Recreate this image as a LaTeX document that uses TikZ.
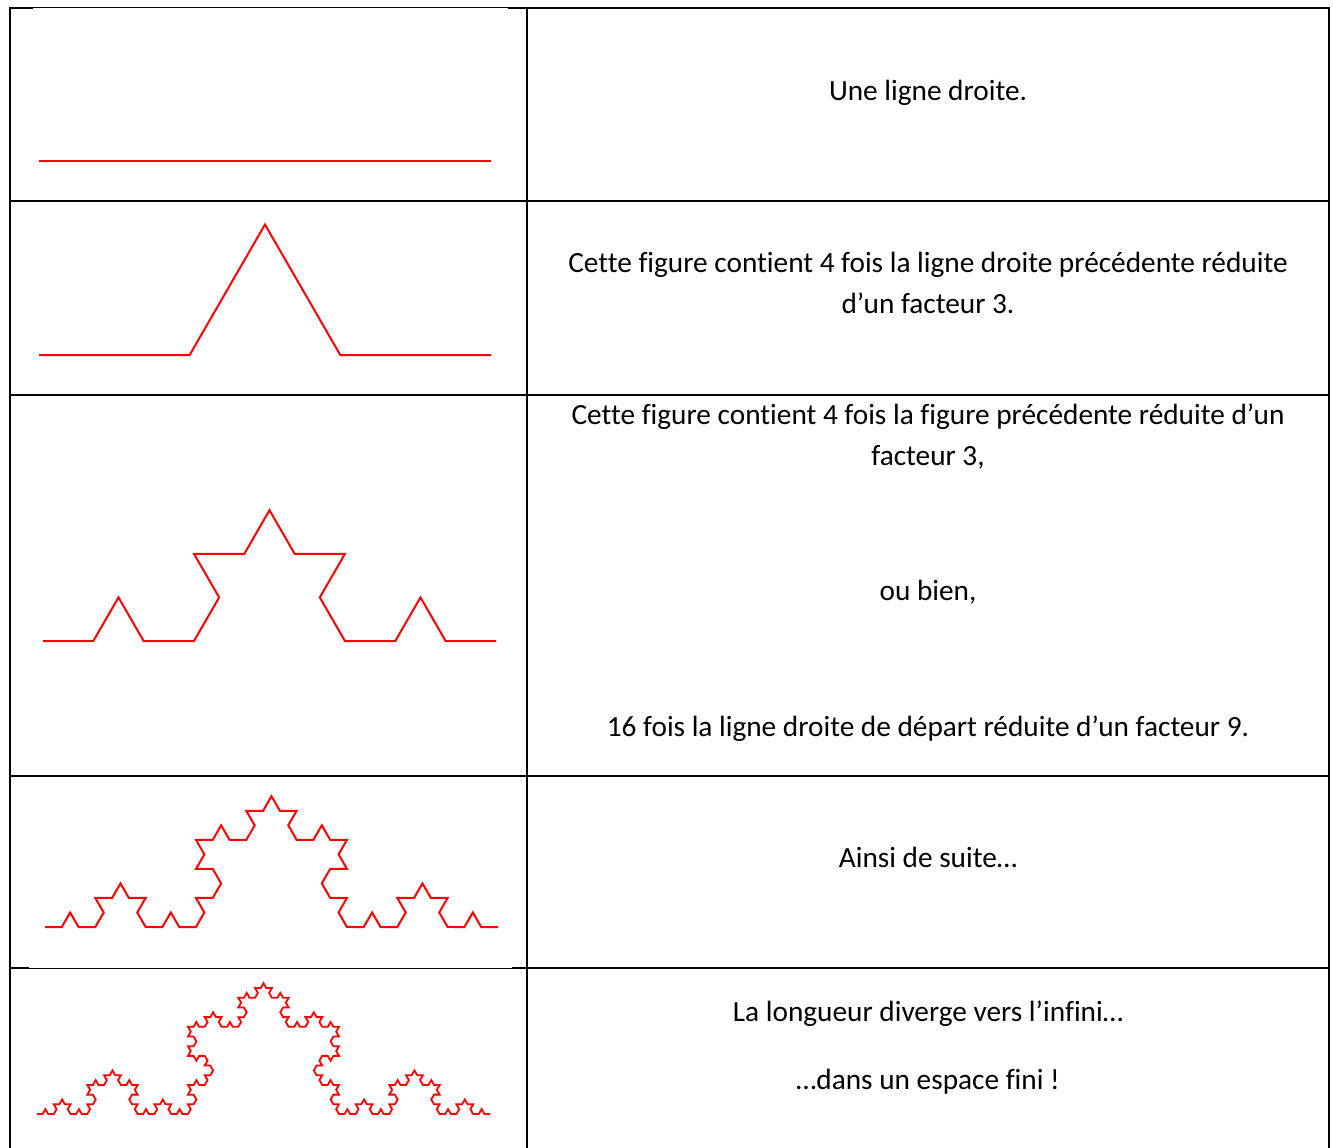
\documentclass[tikz,border=0pt]{standalone}
\usepackage{fontspec}
\setmainfont{Carlito}[Ligatures={NoCommon}]
\usetikzlibrary{decorations.fractals}
\tikzset{
  grid/.style={line width=2pt, black},
  thingrid/.style={line width=1pt, black},
  koch/.style={line width=2pt, red, decoration={Koch snowflake}},
  txt/.style={anchor=base, inner sep=0pt, font=\fontsize{29.3pt}{41pt}\selectfont}
}
\begin{document}
\begin{tikzpicture}[x=1pt,y=-1pt]
\useasboundingbox (0,0) rectangle (1333,1148);
% table
\draw[grid] (10,8) -- (10,1148);
\draw[grid] (527,8) -- (527,1148);
\draw[grid] (1329,8) -- (1329,1148);
\draw[grid] (9,8) -- (33,8);
\draw[thingrid] (33,8) -- (508,8);
\draw[grid] (508,8) -- (1330,8);
\draw[grid] (9,201) -- (1330,201);
\draw[grid] (9,395) -- (1330,395);
\draw[grid] (9,776) -- (1330,776);
\draw[grid] (9,968) -- (29,968);
\draw[thingrid] (29,968) -- (512,968);
\draw[grid] (512,968) -- (1330,968);
% curves
\coordinate (a0) at (39,161); \coordinate (b0) at (491,161);
\coordinate (a1) at (39,355); \coordinate (b1) at (491,355);
\coordinate (a2) at (43,641); \coordinate (b2) at (496,641);
\coordinate (a3) at (45,927); \coordinate (b3) at (498,927);
\coordinate (a4) at (37,1114); \coordinate (b4) at (490,1114);
\draw[koch] (a0) -- (b0);
\draw[koch] decorate{(a1) -- (b1)};
\draw[koch] decorate{decorate{(a2) -- (b2)}};
\draw[koch] decorate{decorate{decorate{(a3) -- (b3)}}};
\draw[koch, line width=1.8pt] decorate{decorate{decorate{decorate{(a4) -- (b4)}}}};
% texts
\node[txt] (t1) at (928,100) {Une ligne droite.};
\node[txt] (t2) at (928,272) {Cette figure contient 4 fois la ligne droite précédente réduite};
\node[txt] (t3) at (928,313) {d’un facteur 3.};
\node[txt] (t4) at (928,424) {Cette figure contient 4 fois la figure précédente réduite d’un};
\node[txt] (t5) at (928,465) {facteur 3,};
\node[txt] (t6) at (928,600) {ou bien,};
\node[txt] (t7) at (928,736) {16 fois la ligne droite de départ réduite d’un facteur 9.};
\node[txt] (t8) at (928,867) {Ainsi de suite…};
\node[txt] (t9) at (928,1021) {La longueur diverge vers l’infini…};
\node[txt] (t10) at (928,1089) {…dans un espace fini !};
\end{tikzpicture}
\end{document}
